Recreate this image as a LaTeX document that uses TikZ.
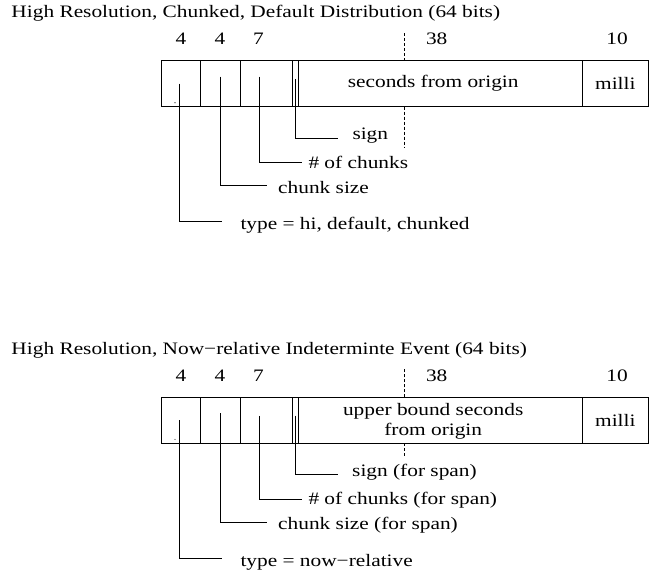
\documentclass[tikz,border=0pt]{standalone}
\usepackage{fontspec}
\setmainfont{Liberation Serif}[FakeStretch=1.22]
\usetikzlibrary{positioning}

\begin{document}
\begin{tikzpicture}[x=1pt, y=-1pt, line width=1pt,
    txt/.style={inner sep=0pt, font=\fontsize{17.5}{20.7}\selectfont},
    cell/.style={draw, minimum height=46pt, inner sep=0pt, outer sep=0pt, anchor=west},
    lbl/.style={txt, anchor=base west},
    num/.style={txt, anchor=base},
    gap/.style={densely dashed, line width=0.8pt}]
\useasboundingbox (0,0) rectangle (649,577);

% --- chunked, default distribution
\node[lbl] (title1) at (11,18) {High Resolution, Chunked, Default Distribution (64 bits)};
\node[cell, minimum width=39pt] (a1) at (161,83.7) {};
\node[cell, minimum width=40pt, right=0pt of a1] (a2) {};
\node[cell, minimum width=52.7pt, right=0pt of a2] (a3) {};
\node[cell, minimum width=6pt, right=0pt of a3] (a4) {};
\node[cell, minimum width=284pt, right=0pt of a4] (a5) {};
\node[cell, minimum width=65.3pt, right=0pt of a5] (a6) {};
\node[txt] (sec1) at ([xshift=-7.5pt]a5.center) {seconds from origin};
\node[txt] (ms1) at (a6.center) {milli};
\node[num] (na1) at ([xshift=0.5pt, yshift=15.7pt]a1.north) {4};
\node[num] (na2) at ([yshift=15.7pt]a2.north) {4};
\node[num] (na3) at ([xshift=-8pt, yshift=15.7pt]a3.north) {7};
\node[num] (na5) at ([xshift=-4pt, yshift=15.7pt]a5.north) {38};
\node[num] (na6) at ([xshift=1.7pt, yshift=15.7pt]a6.north) {10};
\fill ([xshift=-5.5pt, yshift=-19pt]a1.center) circle (0.6pt);
\draw[gap] ([xshift=-36.7pt]a5.north) -- ++(0,-28.7);
\draw[gap] ([xshift=-36.7pt]a5.south) -- ++(0,40.3);

\node[lbl] (sgn1) at (352,140) {sign};
\node[lbl] (chk1) at (308,168.3) {\# of chunks};
\node[lbl] (siz1) at (277.7,193.3) {chunk size};
\node[lbl] (typ1) at (240,230) {type = hi, default, chunked};
\draw ([yshift=4.7pt]a4.center) |- ([xshift=-14pt, yshift=1.7pt]sgn1.base west);
\draw ([xshift=-7pt, yshift=7pt]a3.center) |- ([xshift=-6.3pt, yshift=5.6pt]chk1.base west);
\draw ([xshift=0.7pt, yshift=7pt]a2.center) |- ([xshift=-10.7pt, yshift=7.3pt]siz1.base west);
\draw ([xshift=-1.2pt]a1.center) |- ([xshift=-18.3pt, yshift=8.3pt]typ1.base west);

% --- now-relative indeterminate event
\node[lbl] (title2) at (11,354.7) {High Resolution, Now−relative Indeterminte Event (64 bits)};
\node[cell, minimum width=39pt] (b1) at (161,420.4) {};
\node[cell, minimum width=40pt, right=0pt of b1] (b2) {};
\node[cell, minimum width=52.7pt, right=0pt of b2] (b3) {};
\node[cell, minimum width=6pt, right=0pt of b3] (b4) {};
\node[cell, minimum width=284pt, right=0pt of b4] (b5) {};
\node[cell, minimum width=65.3pt, right=0pt of b5] (b6) {};
\node[txt, align=center] (sec2) at ([xshift=-7.5pt, yshift=-1pt]b5.center) {upper bound seconds\\from origin};
\node[txt] (ms2) at (b6.center) {milli};
\node[num] (nb1) at ([xshift=0.5pt, yshift=15.7pt]b1.north) {4};
\node[num] (nb2) at ([yshift=15.7pt]b2.north) {4};
\node[num] (nb3) at ([xshift=-8pt, yshift=15.7pt]b3.north) {7};
\node[num] (nb5) at ([xshift=-4pt, yshift=15.7pt]b5.north) {38};
\node[num] (nb6) at ([xshift=1.7pt, yshift=15.7pt]b6.north) {10};
\fill ([xshift=-5.5pt, yshift=-19pt]b1.center) circle (0.6pt);
\draw[gap] ([xshift=-36.7pt]b5.north) -- ++(0,-29);
\draw[gap] ([xshift=-36.7pt]b5.south) -- ++(0,14);

\node[lbl] (sgn2) at (351.7,476.7) {sign (for span)};
\node[lbl] (chk2) at (308,505) {\# of chunks (for span)};
\node[lbl] (siz2) at (277.7,530) {chunk size (for span)};
\node[lbl] (typ2) at (240,566.7) {type = now−relative};
\draw ([yshift=4.7pt]b4.center) |- ([xshift=-14pt, yshift=1.7pt]sgn2.base west);
\draw ([xshift=-7pt, yshift=4.5pt]b3.center) |- ([xshift=-6.3pt, yshift=5.6pt]chk2.base west);
\draw ([xshift=0.7pt, yshift=7pt]b2.center) |- ([xshift=-10.7pt, yshift=7.3pt]siz2.base west);
\draw ([xshift=-1.2pt]b1.center) |- ([xshift=-18.3pt, yshift=8.3pt]typ2.base west);
\end{tikzpicture}
\end{document}
